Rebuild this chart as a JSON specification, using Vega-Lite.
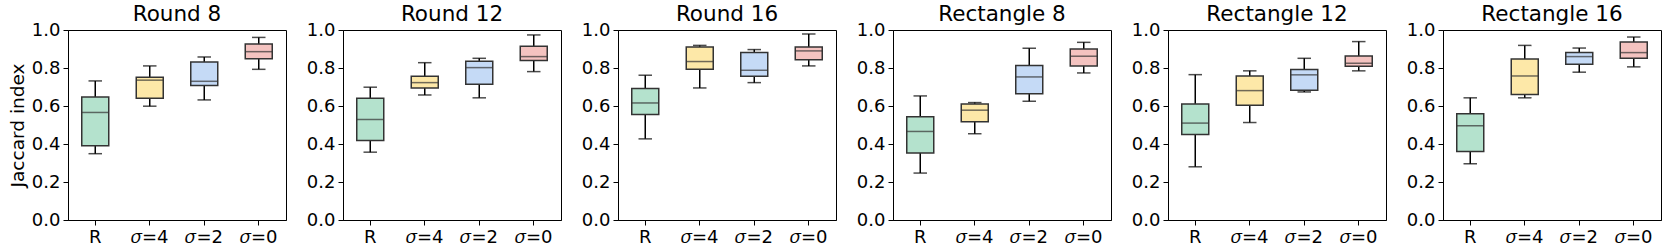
{
  "$schema": "https://vega.github.io/schema/vega-lite/v6.json",
  "background": "white",
  "padding": {"left": 7, "top": 3, "right": 5, "bottom": 5},
  "bounds": "flush",
  "spacing": 57,
  "data": {"values": [
    {"panel": "Round 8", "cat": "R", "low": 0.349, "q1": 0.391, "med": 0.566, "q3": 0.648, "high": 0.732},
    {"panel": "Round 8", "cat": "𝜎=4", "low": 0.599, "q1": 0.641, "med": 0.736, "q3": 0.751, "high": 0.811},
    {"panel": "Round 8", "cat": "𝜎=2", "low": 0.632, "q1": 0.708, "med": 0.730, "q3": 0.832, "high": 0.858},
    {"panel": "Round 8", "cat": "𝜎=0", "low": 0.793, "q1": 0.849, "med": 0.886, "q3": 0.926, "high": 0.961},
    {"panel": "Round 12", "cat": "R", "low": 0.357, "q1": 0.419, "med": 0.529, "q3": 0.641, "high": 0.699},
    {"panel": "Round 12", "cat": "𝜎=4", "low": 0.658, "q1": 0.695, "med": 0.723, "q3": 0.757, "high": 0.828},
    {"panel": "Round 12", "cat": "𝜎=2", "low": 0.643, "q1": 0.715, "med": 0.802, "q3": 0.835, "high": 0.851},
    {"panel": "Round 12", "cat": "𝜎=0", "low": 0.781, "q1": 0.839, "med": 0.860, "q3": 0.914, "high": 0.974},
    {"panel": "Round 16", "cat": "R", "low": 0.427, "q1": 0.555, "med": 0.616, "q3": 0.692, "high": 0.762},
    {"panel": "Round 16", "cat": "𝜎=4", "low": 0.695, "q1": 0.793, "med": 0.834, "q3": 0.911, "high": 0.919},
    {"panel": "Round 16", "cat": "𝜎=2", "low": 0.723, "q1": 0.757, "med": 0.788, "q3": 0.881, "high": 0.897},
    {"panel": "Round 16", "cat": "𝜎=0", "low": 0.811, "q1": 0.844, "med": 0.890, "q3": 0.911, "high": 0.979},
    {"panel": "Rectangle 8", "cat": "R", "low": 0.247, "q1": 0.352, "med": 0.466, "q3": 0.543, "high": 0.653},
    {"panel": "Rectangle 8", "cat": "𝜎=4", "low": 0.454, "q1": 0.517, "med": 0.578, "q3": 0.611, "high": 0.618},
    {"panel": "Rectangle 8", "cat": "𝜎=2", "low": 0.625, "q1": 0.665, "med": 0.753, "q3": 0.813, "high": 0.904},
    {"panel": "Rectangle 8", "cat": "𝜎=0", "low": 0.774, "q1": 0.811, "med": 0.862, "q3": 0.900, "high": 0.935},
    {"panel": "Rectangle 12", "cat": "R", "low": 0.280, "q1": 0.450, "med": 0.510, "q3": 0.611, "high": 0.765},
    {"panel": "Rectangle 12", "cat": "𝜎=4", "low": 0.513, "q1": 0.604, "med": 0.681, "q3": 0.758, "high": 0.785},
    {"panel": "Rectangle 12", "cat": "𝜎=2", "low": 0.674, "q1": 0.683, "med": 0.764, "q3": 0.792, "high": 0.851},
    {"panel": "Rectangle 12", "cat": "𝜎=0", "low": 0.785, "q1": 0.809, "med": 0.825, "q3": 0.863, "high": 0.939},
    {"panel": "Rectangle 16", "cat": "R", "low": 0.296, "q1": 0.361, "med": 0.496, "q3": 0.559, "high": 0.643},
    {"panel": "Rectangle 16", "cat": "𝜎=4", "low": 0.643, "q1": 0.660, "med": 0.758, "q3": 0.848, "high": 0.919},
    {"panel": "Rectangle 16", "cat": "𝜎=2", "low": 0.778, "q1": 0.820, "med": 0.860, "q3": 0.881, "high": 0.905},
    {"panel": "Rectangle 16", "cat": "𝜎=0", "low": 0.806, "q1": 0.851, "med": 0.881, "q3": 0.937, "high": 0.963}
  ]},
  "hconcat": [
    {"title": "Round 8", "width": 218, "height": 190,
     "transform": [{"filter": "datum.panel === 'Round 8'"}],
     "encoding": {"x": {"field": "cat", "type": "nominal", "sort": ["R", "𝜎=4", "𝜎=2", "𝜎=0"], "scale": {"paddingInner": 0, "paddingOuter": 0}, "title": null}},
     "layer": [
       {"mark": {"type": "rule", "color": "black", "strokeWidth": 1.5}, "encoding": {"y": {"field": "low", "type": "quantitative", "scale": {"domain": [0, 1]}, "title": "Jaccard index"}, "y2": {"field": "high"}}},
       {"mark": {"type": "tick", "color": "black", "size": 13.5, "thickness": 1.5}, "encoding": {"y": {"field": "low", "type": "quantitative", "title": "Jaccard index"}}},
       {"mark": {"type": "tick", "color": "black", "size": 13.5, "thickness": 1.5}, "encoding": {"y": {"field": "high", "type": "quantitative", "title": "Jaccard index"}}},
       {"mark": {"type": "bar", "size": 27, "stroke": "#333333", "strokeWidth": 1.5}, "encoding": {"y": {"field": "q1", "type": "quantitative", "title": "Jaccard index"}, "y2": {"field": "q3"}, "fill": {"field": "cat", "type": "nominal", "scale": {"domain": ["R", "𝜎=4", "𝜎=2", "𝜎=0"], "range": ["#b4e2cd", "#fde8a8", "#c5daf6", "#f4c3c0"]}, "legend": null}}},
       {"mark": {"type": "tick", "color": "#333333", "size": 27, "thickness": 1.5}, "encoding": {"y": {"field": "med", "type": "quantitative", "title": "Jaccard index"}}}
     ]},
    {"title": "Round 12", "width": 218, "height": 190,
     "transform": [{"filter": "datum.panel === 'Round 12'"}],
     "encoding": {"x": {"field": "cat", "type": "nominal", "sort": ["R", "𝜎=4", "𝜎=2", "𝜎=0"], "scale": {"paddingInner": 0, "paddingOuter": 0}, "title": null}},
     "layer": [
       {"mark": {"type": "rule", "color": "black", "strokeWidth": 1.5}, "encoding": {"y": {"field": "low", "type": "quantitative", "scale": {"domain": [0, 1]}, "title": null}, "y2": {"field": "high"}}},
       {"mark": {"type": "tick", "color": "black", "size": 13.5, "thickness": 1.5}, "encoding": {"y": {"field": "low", "type": "quantitative", "title": null}}},
       {"mark": {"type": "tick", "color": "black", "size": 13.5, "thickness": 1.5}, "encoding": {"y": {"field": "high", "type": "quantitative", "title": null}}},
       {"mark": {"type": "bar", "size": 27, "stroke": "#333333", "strokeWidth": 1.5}, "encoding": {"y": {"field": "q1", "type": "quantitative", "title": null}, "y2": {"field": "q3"}, "fill": {"field": "cat", "type": "nominal", "scale": {"domain": ["R", "𝜎=4", "𝜎=2", "𝜎=0"], "range": ["#b4e2cd", "#fde8a8", "#c5daf6", "#f4c3c0"]}, "legend": null}}},
       {"mark": {"type": "tick", "color": "#333333", "size": 27, "thickness": 1.5}, "encoding": {"y": {"field": "med", "type": "quantitative", "title": null}}}
     ]},
    {"title": "Round 16", "width": 218, "height": 190,
     "transform": [{"filter": "datum.panel === 'Round 16'"}],
     "encoding": {"x": {"field": "cat", "type": "nominal", "sort": ["R", "𝜎=4", "𝜎=2", "𝜎=0"], "scale": {"paddingInner": 0, "paddingOuter": 0}, "title": null}},
     "layer": [
       {"mark": {"type": "rule", "color": "black", "strokeWidth": 1.5}, "encoding": {"y": {"field": "low", "type": "quantitative", "scale": {"domain": [0, 1]}, "title": null}, "y2": {"field": "high"}}},
       {"mark": {"type": "tick", "color": "black", "size": 13.5, "thickness": 1.5}, "encoding": {"y": {"field": "low", "type": "quantitative", "title": null}}},
       {"mark": {"type": "tick", "color": "black", "size": 13.5, "thickness": 1.5}, "encoding": {"y": {"field": "high", "type": "quantitative", "title": null}}},
       {"mark": {"type": "bar", "size": 27, "stroke": "#333333", "strokeWidth": 1.5}, "encoding": {"y": {"field": "q1", "type": "quantitative", "title": null}, "y2": {"field": "q3"}, "fill": {"field": "cat", "type": "nominal", "scale": {"domain": ["R", "𝜎=4", "𝜎=2", "𝜎=0"], "range": ["#b4e2cd", "#fde8a8", "#c5daf6", "#f4c3c0"]}, "legend": null}}},
       {"mark": {"type": "tick", "color": "#333333", "size": 27, "thickness": 1.5}, "encoding": {"y": {"field": "med", "type": "quantitative", "title": null}}}
     ]},
    {"title": "Rectangle 8", "width": 218, "height": 190,
     "transform": [{"filter": "datum.panel === 'Rectangle 8'"}],
     "encoding": {"x": {"field": "cat", "type": "nominal", "sort": ["R", "𝜎=4", "𝜎=2", "𝜎=0"], "scale": {"paddingInner": 0, "paddingOuter": 0}, "title": null}},
     "layer": [
       {"mark": {"type": "rule", "color": "black", "strokeWidth": 1.5}, "encoding": {"y": {"field": "low", "type": "quantitative", "scale": {"domain": [0, 1]}, "title": null}, "y2": {"field": "high"}}},
       {"mark": {"type": "tick", "color": "black", "size": 13.5, "thickness": 1.5}, "encoding": {"y": {"field": "low", "type": "quantitative", "title": null}}},
       {"mark": {"type": "tick", "color": "black", "size": 13.5, "thickness": 1.5}, "encoding": {"y": {"field": "high", "type": "quantitative", "title": null}}},
       {"mark": {"type": "bar", "size": 27, "stroke": "#333333", "strokeWidth": 1.5}, "encoding": {"y": {"field": "q1", "type": "quantitative", "title": null}, "y2": {"field": "q3"}, "fill": {"field": "cat", "type": "nominal", "scale": {"domain": ["R", "𝜎=4", "𝜎=2", "𝜎=0"], "range": ["#b4e2cd", "#fde8a8", "#c5daf6", "#f4c3c0"]}, "legend": null}}},
       {"mark": {"type": "tick", "color": "#333333", "size": 27, "thickness": 1.5}, "encoding": {"y": {"field": "med", "type": "quantitative", "title": null}}}
     ]},
    {"title": "Rectangle 12", "width": 218, "height": 190,
     "transform": [{"filter": "datum.panel === 'Rectangle 12'"}],
     "encoding": {"x": {"field": "cat", "type": "nominal", "sort": ["R", "𝜎=4", "𝜎=2", "𝜎=0"], "scale": {"paddingInner": 0, "paddingOuter": 0}, "title": null}},
     "layer": [
       {"mark": {"type": "rule", "color": "black", "strokeWidth": 1.5}, "encoding": {"y": {"field": "low", "type": "quantitative", "scale": {"domain": [0, 1]}, "title": null}, "y2": {"field": "high"}}},
       {"mark": {"type": "tick", "color": "black", "size": 13.5, "thickness": 1.5}, "encoding": {"y": {"field": "low", "type": "quantitative", "title": null}}},
       {"mark": {"type": "tick", "color": "black", "size": 13.5, "thickness": 1.5}, "encoding": {"y": {"field": "high", "type": "quantitative", "title": null}}},
       {"mark": {"type": "bar", "size": 27, "stroke": "#333333", "strokeWidth": 1.5}, "encoding": {"y": {"field": "q1", "type": "quantitative", "title": null}, "y2": {"field": "q3"}, "fill": {"field": "cat", "type": "nominal", "scale": {"domain": ["R", "𝜎=4", "𝜎=2", "𝜎=0"], "range": ["#b4e2cd", "#fde8a8", "#c5daf6", "#f4c3c0"]}, "legend": null}}},
       {"mark": {"type": "tick", "color": "#333333", "size": 27, "thickness": 1.5}, "encoding": {"y": {"field": "med", "type": "quantitative", "title": null}}}
     ]},
    {"title": "Rectangle 16", "width": 218, "height": 190,
     "transform": [{"filter": "datum.panel === 'Rectangle 16'"}],
     "encoding": {"x": {"field": "cat", "type": "nominal", "sort": ["R", "𝜎=4", "𝜎=2", "𝜎=0"], "scale": {"paddingInner": 0, "paddingOuter": 0}, "title": null}},
     "layer": [
       {"mark": {"type": "rule", "color": "black", "strokeWidth": 1.5}, "encoding": {"y": {"field": "low", "type": "quantitative", "scale": {"domain": [0, 1]}, "title": null}, "y2": {"field": "high"}}},
       {"mark": {"type": "tick", "color": "black", "size": 13.5, "thickness": 1.5}, "encoding": {"y": {"field": "low", "type": "quantitative", "title": null}}},
       {"mark": {"type": "tick", "color": "black", "size": 13.5, "thickness": 1.5}, "encoding": {"y": {"field": "high", "type": "quantitative", "title": null}}},
       {"mark": {"type": "bar", "size": 27, "stroke": "#333333", "strokeWidth": 1.5}, "encoding": {"y": {"field": "q1", "type": "quantitative", "title": null}, "y2": {"field": "q3"}, "fill": {"field": "cat", "type": "nominal", "scale": {"domain": ["R", "𝜎=4", "𝜎=2", "𝜎=0"], "range": ["#b4e2cd", "#fde8a8", "#c5daf6", "#f4c3c0"]}, "legend": null}}},
       {"mark": {"type": "tick", "color": "#333333", "size": 27, "thickness": 1.5}, "encoding": {"y": {"field": "med", "type": "quantitative", "title": null}}}
     ]}
  ],
  "config": {
    "font": "DejaVu Sans",
    "view": {"stroke": "black", "strokeWidth": 1},
    "title": {"font": "DejaVu Sans", "fontSize": 21.5, "fontWeight": "normal", "color": "black", "offset": -4, "anchor": "middle"},
    "axis": {"labelFont": "DejaVu Sans", "labelFontSize": 18, "labelColor": "black", "tickColor": "black", "domainColor": "black", "tickSize": 5, "tickWidth": 1, "grid": false, "labelPadding": 3, "titleFont": "DejaVu Sans", "titleFontSize": 18.5, "titleFontWeight": "normal", "titleColor": "black"},
    "axisX": {"labelAngle": 0},
    "axisY": {"tickCount": 6, "format": ".1f", "titlePadding": 4}
  }
}
